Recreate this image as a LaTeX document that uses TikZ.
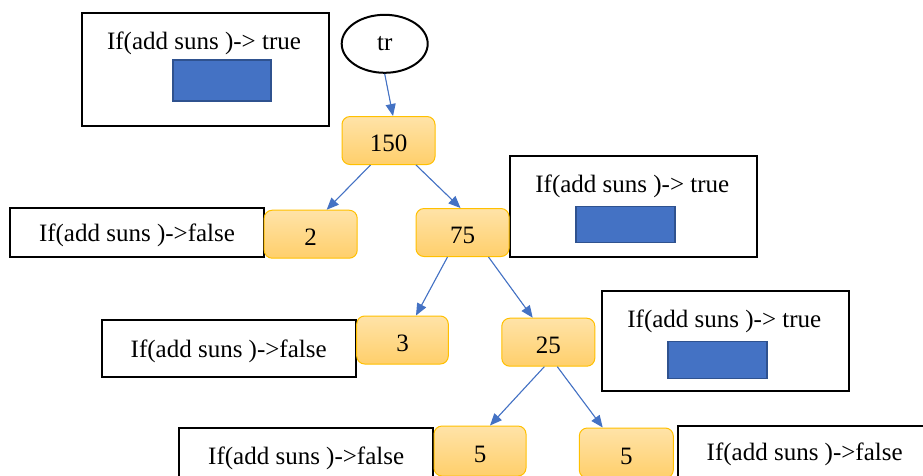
\documentclass[tikz,border=0pt]{standalone}
\usepackage{fontspec}
\setmainfont{Liberation Serif}
\usetikzlibrary{arrows.meta,shapes.geometric}
\definecolor{linkblue}{HTML}{4472C4}
\definecolor{barblue}{HTML}{4472C4}
\definecolor{baredge}{HTML}{2F528F}
\definecolor{valtop}{HTML}{FFE3A8}
\definecolor{valbot}{HTML}{FFCF6B}
\definecolor{valedge}{HTML}{FFC000}
\begin{document}
\begin{tikzpicture}[x=1pt,y=-1pt,
  every node/.style={font=\fontsize{25}{30}\selectfont},
  valbox/.style={rectangle, rounded corners=8pt, draw=valedge, line width=1pt,
    top color=valtop, bottom color=valbot, minimum width=93pt, minimum height=48pt,
    inner sep=0pt, text height=22pt, text depth=0pt},
  condbox/.style={rectangle, draw=black, line width=2pt, inner sep=0pt, minimum width=254pt,
    text height=20pt, text depth=2pt},
  truebox/.style={rectangle, draw=black, line width=2pt, inner sep=0pt, minimum width=247pt},
  flag/.style={rectangle, fill=barblue, draw=baredge, line width=1.5pt, inner sep=0pt,
    minimum width=99pt, minimum height=37pt},
  caption/.style={inner sep=0pt, text height=20pt, text depth=2pt},
  link/.style={draw=linkblue, line width=1.1pt, -{Triangle[length=12pt,width=10pt]}, fill=linkblue}
]
\useasboundingbox (0,0) rectangle (923,475);
\fill[white] (0,0) rectangle (923,475);
\clip (0,0) rectangle (923,475);

% "true" boxes, each with a caption and a blue flag
\node[truebox, minimum height=113pt] (tA) at (205.3,69.2) {};
\node[caption] (tAtxt) at (204,40) {If(add suns )-> true};
\node[flag, minimum width=98pt, minimum height=41pt] (tAflag) at (222,80.5) {};

\node[truebox, minimum height=101pt] (tB) at (633.7,206.3) {};
\node[caption] (tBtxt) at (632.3,183.3) {If(add suns )-> true};
\node[flag, minimum height=36pt] (tBflag) at (625.7,224.7) {};

\node[truebox, minimum height=100pt] (tC) at (725.7,340.8) {};
\node[caption] (tCtxt) at (724.3,318.3) {If(add suns )-> true};
\node[flag] (tCflag) at (717.3,360) {};

% "false" boxes
\node[condbox, minimum height=48.4pt] (fA) at (137,232.5) {If(add suns )->false};
\node[condbox, minimum height=57.3pt] (fB) at (228.7,348.7) {If(add suns )->false};
\node[condbox, minimum height=53.4pt] (fC) at (306.2,455) {If(add suns )->false};
\node[condbox, minimum height=51.4pt] (fD) at (804.7,451.7) {If(add suns )->false};

% root
\node[ellipse, draw=black, line width=2pt, minimum width=86pt, minimum height=58pt, inner sep=0pt]
  (tr) at (384.7,43.8) {tr};

% value nodes
\node[valbox] (v150) at (388.5,140.5) {150};
\node[valbox] (v2) at (310.7,234.2) {2};
\node[valbox] (v75) at (462.5,232.5) {75};
\node[valbox, minimum width=91.6pt] (v3) at (402.5,340) {3};
\node[valbox] (v25) at (548.3,342.2) {25};
\node[valbox, minimum width=92pt, minimum height=50pt] (v5a) at (480,451) {5};
\node[valbox, minimum width=94pt, minimum height=50pt] (v5b) at (626.3,453) {5};

% connectors
\draw[link] (tr.south) -- ([xshift=4.5pt]v150.north);
\draw[link] ([xshift=-18pt]v150.south) -- ([xshift=16pt]v2.north);
\draw[link] ([xshift=27.5pt]v150.south) -- ([xshift=-2pt]v75.north);
\draw[link] ([xshift=-15pt]v75.south) -- ([xshift=13.5pt]v3.north);
\draw[link] ([xshift=26pt]v75.south) -- ([xshift=-15.6pt]v25.north);
\draw[link] ([xshift=-4pt]v25.south) -- ([xshift=10pt]v5a.north);
\draw[link] ([xshift=9pt]v25.south) -- ([xshift=-23.6pt]v5b.north);
\end{tikzpicture}
\end{document}
